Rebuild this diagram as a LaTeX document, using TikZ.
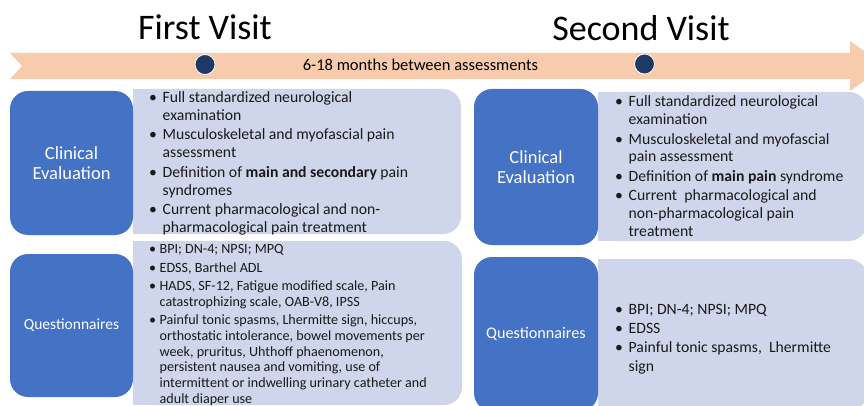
\documentclass[tikz,border=0pt]{standalone}
\usepackage{fontspec}
\setmainfont{Carlito}
\usetikzlibrary{positioning}
\definecolor{bandpeach}{HTML}{F8CBAD}
\definecolor{stepblue}{HTML}{4472C4}
\definecolor{panelblue}{HTML}{CFD5EA}
\definecolor{dotnavy}{HTML}{203864}
\definecolor{listink}{HTML}{1A1A1A}

\newcommand{\bitem}[1]{\makebox[#1][l]{\textbullet}}

\begin{document}
\begin{tikzpicture}[
  x=1pt, y=-1pt,
  visittitle/.style={font=\fontsize{36}{40}\selectfont, anchor=base, inner sep=0},
  labelbox/.style={fill=stepblue, rounded corners=18pt, text=white, align=center, inner sep=0},
  panel/.style={fill=panelblue, rounded corners=18pt, inner sep=0},
  listtext/.style={anchor=west, inner sep=0, text=listink},
  visitdot/.style={circle, fill=dotnavy, draw=white, line width=0.8pt, minimum size=20pt, inner sep=0},
]

\clip (0,0) rectangle (864,406);

% Titles
\node[visittitle] (title1) at (205, 39.5) {First Visit};
\node[visittitle] (title2) at (641, 40.5) {Second Visit};

% Timeline band
\fill[bandpeach] (10,53) -- (850,53) -- (850,41) -- (885,66) -- (850,91) -- (850,79) -- (10,79) -- (22,66) -- cycle;
\node[visitdot] (dot1) at (205, 64.5) {};
\node[visitdot] (dot2) at (644.5, 64) {};
\node[font=\fontsize{16.5}{18}\selectfont, anchor=base, inner sep=0] (gaptext) at (420.5, 71) {6-18 months between assessments};

% ========== First visit (left) ==========
\node[panel, minimum width=328pt, minimum height=145pt] (ce1panel) at (297, 161.5) {};
\fill[panelblue] (ce1panel.north west) rectangle ([xshift=25pt]ce1panel.south west);
\node[labelbox, minimum width=123pt, minimum height=144pt, font=\fontsize{18.5}{20}\selectfont] (ce1box) at (71.5, 163) {Clinical\\Evaluation};
\node[listtext, font=\fontsize{15.7}{18}\selectfont] (ce1list) at (149, 164) {%
\begin{tabular}{@{}l@{}l@{}}
\bitem{13.5pt} & Full standardized neurological\\
 & examination\\[1.2pt]
\bitem{13.5pt} & Musculoskeletal and myofascial pain\\
 & assessment\\[1.2pt]
\bitem{13.5pt} & Definition of \textbf{main and secondary} pain\\
 & syndromes\\[1.2pt]
\bitem{13.5pt} & Current pharmacological and non-\\
 & pharmacological pain treatment
\end{tabular}};

\node[panel, minimum width=329pt, minimum height=164pt] (q1panel) at (297.5, 323) {};
\fill[panelblue] (q1panel.north west) rectangle ([xshift=25pt]q1panel.south west);
\node[labelbox, minimum width=123pt, minimum height=143pt, font=\fontsize{15.5}{18}\selectfont] (q1box) at (71.5, 325.5) {Questionnaires};
\node[listtext, font=\fontsize{14.1}{15.8}\selectfont] (q1list) at (149, 325.5) {%
\begin{tabular}{@{}l@{}l@{}}
\bitem{10.5pt} & BPI; DN-4; NPSI; MPQ\\[2.5pt]
\bitem{10.5pt} & EDSS, Barthel ADL\\[2.5pt]
\bitem{10.5pt} & HADS, SF-12, Fatigue modified scale, Pain\\
 & catastrophizing scale, OAB-V8, IPSS\\[2.5pt]
\bitem{10.5pt} & Painful tonic spasms, Lhermitte sign, hiccups,\\
 & orthostatic intolerance, bowel movements per\\
 & week, pruritus, Uhthoff phaenomenon,\\
 & persistent nausea and vomiting, use of\\
 & intermittent or indwelling urinary catheter and\\
 & adult diaper use
\end{tabular}};

% ========== Second visit (right) ==========
\node[panel, minimum width=269pt, minimum height=149pt] (ce2panel) at (732.5, 166.5) {};
\fill[panelblue] (ce2panel.north west) rectangle ([xshift=25pt]ce2panel.south west);
\node[labelbox, minimum width=124pt, minimum height=156pt, font=\fontsize{18.5}{20}\selectfont] (ce2box) at (536, 167) {Clinical\\Evaluation};
\node[listtext, font=\fontsize{15.7}{17.6}\selectfont] (ce2list) at (615, 168) {%
\begin{tabular}{@{}l@{}l@{}}
\bitem{13.5pt} & Full standardized neurological\\
 & examination\\[2pt]
\bitem{13.5pt} & Musculoskeletal and myofascial\\
 & pain assessment\\[2pt]
\bitem{13.5pt} & Definition of \textbf{main pain} syndrome\\[2pt]
\bitem{13.5pt} & Current\ \ pharmacological and\\
 & non-pharmacological pain\\
 & treatment
\end{tabular}};

\node[panel, minimum width=269pt, minimum height=152pt] (q2panel) at (732.5, 335) {};
\fill[panelblue] (q2panel.north west) rectangle ([xshift=25pt]q2panel.south west);
\node[labelbox, minimum width=124pt, minimum height=154pt, font=\fontsize{16.2}{18}\selectfont] (q2box) at (536, 334) {Questionnaires};
\node[listtext, font=\fontsize{15.7}{19}\selectfont] (q2list) at (615, 339) {%
\begin{tabular}{@{}l@{}l@{}}
\bitem{13.5pt} & BPI; DN-4; NPSI; MPQ\\
\bitem{13.5pt} & EDSS\\
\bitem{13.5pt} & Painful tonic spasms,\ \ Lhermitte\\
 & sign
\end{tabular}};

\end{tikzpicture}
\end{document}
